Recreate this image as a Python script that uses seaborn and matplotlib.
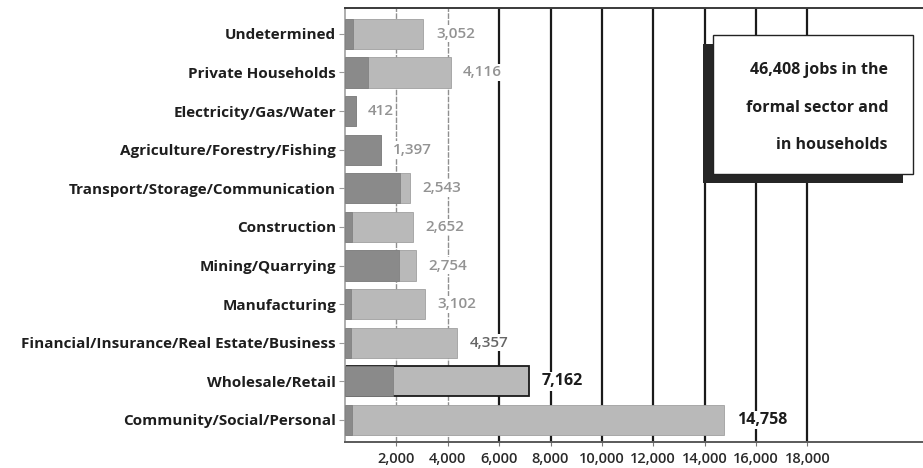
import matplotlib
matplotlib.use("Agg")
import matplotlib.pyplot as plt
from matplotlib.patches import Rectangle
import pandas as pd
import seaborn as sns

# Employment by sector (number of jobs)
sectors = [
    "Undetermined",
    "Private Households",
    "Electricity/Gas/Water",
    "Agriculture/Forestry/Fishing",
    "Transport/Storage/Communication",
    "Construction",
    "Mining/Quarrying",
    "Manufacturing",
    "Financial/Insurance/Real Estate/Business",
    "Wholesale/Retail",
    "Community/Social/Personal",
]
total_jobs = [3052, 4116, 412, 1397, 2543, 2652, 2754, 3102, 4357, 7162, 14758]
dark_share = [320, 880, 412, 1397, 2150, 290, 2090, 245, 215, 1880, 258]
x_ticks = [2000, 4000, 6000, 8000, 10000, 12000, 14000, 16000, 18000]
note_lines = ["46,408 jobs in the", "formal sector and", "in households"]

df = pd.DataFrame({"sector": sectors, "total": total_jobs, "dark": dark_share})

sns.set_theme(style="white")
plt.rcParams["font.family"] = ["Open Sans", "DejaVu Sans"]

W, H = 923, 468
fig = plt.figure(figsize=(W / 100, H / 100), dpi=100)
ax = fig.add_axes([345 / W, 1 - 442 / H, (W - 345) / W, (442 - 8) / H])

light_col = "#b9b9b9"
dark_col = "#8a8a8a"

sns.barplot(data=df, x="total", y="sector", orient="h", color=light_col,
            width=0.78, saturation=1, ax=ax, zorder=2)
sns.barplot(data=df, x="dark", y="sector", orient="h", color=dark_col,
            width=0.78, saturation=1, ax=ax, zorder=3)

total_bars = ax.containers[0]
for i, bar in enumerate(total_bars):
    bar.set_edgecolor("#1a1a1a" if sectors[i] == "Wholesale/Retail" else "#a0a0a0")
    bar.set_linewidth(1.3 if sectors[i] == "Wholesale/Retail" else 0.6)
for bar in ax.containers[1]:
    bar.set_edgecolor("#7c7c7c")
    bar.set_linewidth(0.5)

labels = ax.bar_label(total_bars, labels=[f"{v:,}" for v in total_jobs],
                      padding=9, fontsize=11, fontweight="semibold")
for i, t in enumerate(labels):
    t.set_bbox(dict(facecolor="white", edgecolor="none", pad=1.0))
    t.set_zorder(4)
    if total_jobs[i] >= 7000:
        t.set_color("#1c1c1c")
        t.set_fontweight("bold")
        t.set_fontsize(11.5)
    elif total_jobs[i] == 4357:
        t.set_color("#666666")
    else:
        t.set_color("#939393")

ax.set_xlim(0, 22500)
ax.set_ylim(len(sectors) - 1 + 0.57, -0.67)
ax.set_xticks(x_ticks)
ax.set_xticklabels([f"{v:,}" for v in x_ticks])
ax.set_xlabel("")
ax.set_ylabel("")

ax.grid(axis="x", zorder=0)
ax.set_axisbelow(True)
for i, gl in enumerate(ax.get_xgridlines()):
    if i < 2:
        gl.set_color("#8f8f8f")
        gl.set_linewidth(1.0)
        gl.set_linestyle((0, (4, 1)))
    else:
        gl.set_color("#1a1a1a")
        gl.set_linewidth(1.6)

ax.tick_params(axis="y", which="both", left=True, direction="inout", length=9,
               width=0.8, color="#9a9a9a", labelsize=11, labelcolor="#1e1e1e", pad=2)
ax.tick_params(axis="x", which="both", bottom=True, direction="out", length=3,
               width=0.8, color="#777777", labelsize=10.5, labelcolor="#2a2a2a", pad=4)
for t in ax.get_yticklabels():
    t.set_fontweight("bold")
for t in ax.get_xticklabels():
    t.set_fontweight("semibold")

ax.spines["right"].set_visible(False)
ax.spines["left"].set_color("#a0a0a0")
ax.spines["left"].set_linewidth(1.2)
ax.spines["top"].set_color("#3a3a3a")
ax.spines["top"].set_linewidth(1.4)
ax.spines["bottom"].set_color("#5a5a5a")
ax.spines["bottom"].set_linewidth(1.4)

# Note box with a drop shadow in the upper right
def fx(px):
    return px / W

def fy(py):
    return 1 - py / H

shadow = Rectangle((fx(703), fy(183)), fx(913) - fx(713), fy(35) - fy(174),
                   transform=fig.transFigure, facecolor="#262626",
                   edgecolor="none", zorder=5)
box = Rectangle((fx(713), fy(174)), fx(913) - fx(713), fy(35) - fy(174),
                transform=fig.transFigure, facecolor="white",
                edgecolor="#222222", linewidth=1.0, zorder=6)
fig.patches.extend([shadow, box])

for line, py in zip(note_lines, [70, 108, 145]):
    fig.text(fx(888), fy(py), line, ha="right", va="center", fontsize=11.5,
             fontweight="bold", color="#1e1e1e", zorder=7)

fig.savefig("out.png", dpi=100)
